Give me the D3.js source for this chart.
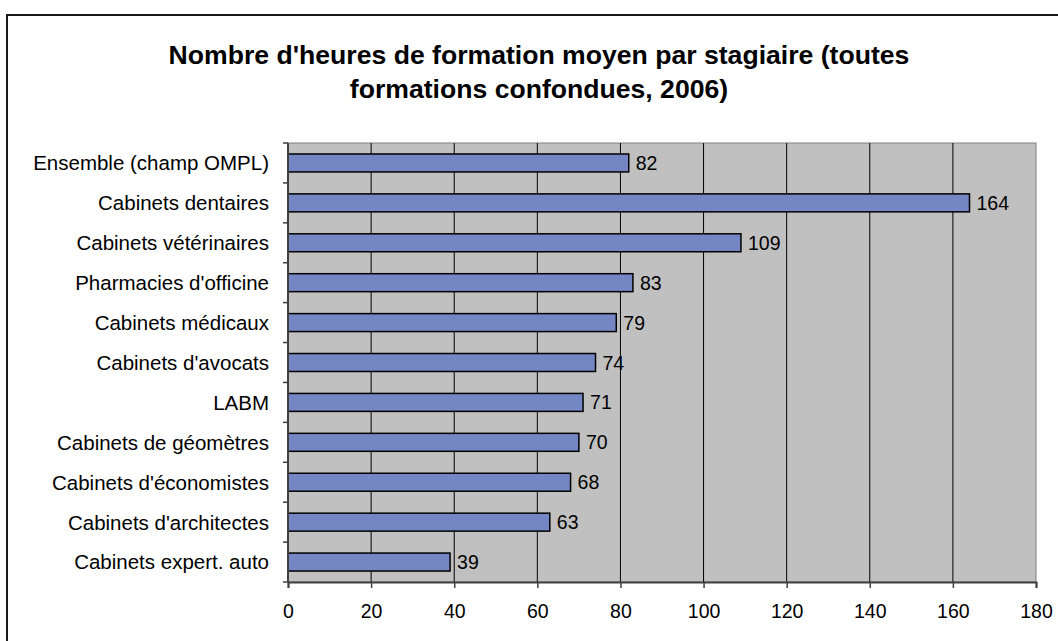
<!DOCTYPE html>
<html>
<head>
<meta charset="utf-8">
<script src="https://cdn.jsdelivr.net/npm/d3@7"></script>
<style>
  body { margin: 0; background: #fff; }
  text { font-family: "Liberation Sans", Arial, sans-serif; fill: #000; }
</style>
</head>
<body>
<svg id="chart"></svg>
<script>
// data
var categories = [
  "Ensemble (champ OMPL)",
  "Cabinets dentaires",
  "Cabinets vétérinaires",
  "Pharmacies d'officine",
  "Cabinets médicaux",
  "Cabinets d'avocats",
  "LABM",
  "Cabinets de géomètres",
  "Cabinets d'économistes",
  "Cabinets d'architectes",
  "Cabinets expert. auto"
];
var hours = [82, 164, 109, 83, 79, 74, 71, 70, 68, 63, 39];
var xTicks = [0, 20, 40, 60, 80, 100, 120, 140, 160, 180];
var titleLines = [
  "Nombre d'heures de formation moyen par stagiaire (toutes",
  "formations confondues, 2006)"
];

var screen = { width: 1058, height: 641 };
var plot = { left: 288, right: 1036, top: 143, bottom: 582 };

var svg = d3.select("#chart").attr("width", screen.width).attr("height", screen.height);

// outer frame
svg.append("rect")
  .attr("x", 7).attr("y", 15)
  .attr("width", 1070).attr("height", 660)
  .attr("fill", "#fff")
  .attr("stroke", "#1a1a1a")
  .attr("stroke-width", 2);

// title
svg.append("g").selectAll("text")
  .data(titleLines)
  .enter()
  .append("text")
  .text(function (d) { return d; })
  .attr("x", 539)
  .attr("y", function (d, i) { return 64 + i * 34; })
  .attr("text-anchor", "middle")
  .style("font-size", "26.6px")
  .style("font-weight", "bold");

// scales
var xScale = d3.scaleLinear().domain([0, 180]).range([plot.left, plot.right]);
var yScale = d3.scaleBand()
  .domain(categories)
  .range([plot.top, plot.bottom])
  .paddingInner(0.55)
  .paddingOuter(0.275);

// plot background
svg.append("rect")
  .attr("x", plot.left).attr("y", plot.top)
  .attr("width", plot.right - plot.left).attr("height", plot.bottom - plot.top)
  .attr("fill", "#c0c0c0")
  .attr("stroke", "#808080")
  .attr("stroke-width", 1);

// gridlines
svg.append("g").selectAll("line")
  .data(xTicks.filter(function (t) { return t > 0 && t < 180; }))
  .enter()
  .append("line")
  .attr("x1", function (d) { return xScale(d); })
  .attr("x2", function (d) { return xScale(d); })
  .attr("y1", plot.top)
  .attr("y2", plot.bottom)
  .attr("stroke", "#000")
  .attr("stroke-width", 1);

// bars
var step = yScale.step();
svg.append("g").selectAll("rect")
  .data(categories)
  .enter()
  .append("rect")
  .attr("x", xScale(0))
  .attr("y", function (d) { return yScale(d); })
  .attr("width", function (d, i) { return xScale(hours[i]) - xScale(0); })
  .attr("height", yScale.bandwidth())
  .attr("fill", "#7586c4")
  .attr("stroke", "#000")
  .attr("stroke-width", 1.5);

// value labels
svg.append("g").selectAll("text")
  .data(categories)
  .enter()
  .append("text")
  .text(function (d, i) { return hours[i]; })
  .attr("x", function (d, i) { return xScale(hours[i]) + 7; })
  .attr("y", function (d) { return yScale(d) + yScale.bandwidth() / 2; })
  .attr("dy", "0.36em")
  .style("font-size", "19.5px");

// category labels
svg.append("g").selectAll("text")
  .data(categories)
  .enter()
  .append("text")
  .text(function (d) { return d; })
  .attr("x", 269)
  .attr("y", function (d) { return yScale(d) + yScale.bandwidth() / 2; })
  .attr("dy", "0.36em")
  .attr("text-anchor", "end")
  .style("font-size", "20.5px");

// y tick marks at category boundaries
var bounds = categories.map(function (d) {
  return yScale(d) + yScale.bandwidth() / 2 - step / 2;
});
bounds.push(plot.bottom);
svg.append("g").selectAll("line")
  .data(bounds)
  .enter()
  .append("line")
  .attr("x1", plot.left - 5).attr("x2", plot.left)
  .attr("y1", function (d) { return d; })
  .attr("y2", function (d) { return d; })
  .attr("stroke", "#404040")
  .attr("stroke-width", 1.5);

// x axis
var xAxis = d3.axisBottom(xScale).tickValues(xTicks).tickSize(6).tickPadding(16);
var xg = svg.append("g")
  .attr("transform", "translate(0," + plot.bottom + ")")
  .call(xAxis);
xg.select(".domain").attr("stroke", "#404040").attr("stroke-width", 2);
xg.selectAll(".tick line").attr("stroke", "#404040").attr("stroke-width", 1.5);
xg.selectAll(".tick text")
  .style("font-size", "19.5px")
  .style("font-family", "'Liberation Sans', Arial, sans-serif")
  .attr("fill", "#000");

// y axis line
svg.append("line")
  .attr("x1", plot.left).attr("x2", plot.left)
  .attr("y1", plot.top).attr("y2", plot.bottom)
  .attr("stroke", "#404040")
  .attr("stroke-width", 2);
</script>
</body>
</html>
